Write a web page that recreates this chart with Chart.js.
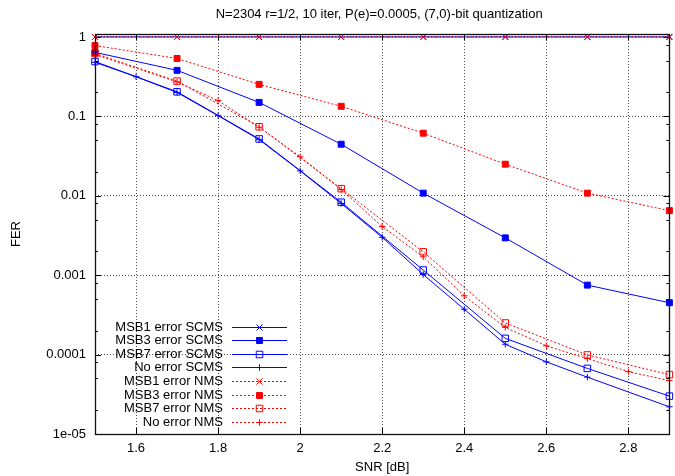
<!DOCTYPE html>
<html>
<head>
<meta charset="utf-8">
<script src="https://cdn.jsdelivr.net/npm/chart.js@4.4.0/dist/chart.umd.min.js"></script>
<style>
  html, body { margin: 0; padding: 0; background: #ffffff; }
  canvas { display: block; }
</style>
</head>
<body>
<canvas id="fer" width="675" height="476" style="width:675px;height:476px"></canvas>
<script>
// --- data ---
const TITLE = 'N=2304 r=1/2, 10 iter, P(e)=0.0005, (7,0)-bit quantization';
const X_TITLE = 'SNR [dB]';
const Y_TITLE = 'FER';

const xTickValues = [1.6, 1.8, 2.0, 2.2, 2.4, 2.6, 2.8];
const xTickLabels = ['1.6', '1.8', '2', '2.2', '2.4', '2.6', '2.8'];
const yTickValues = [1e-5, 1e-4, 1e-3, 1e-2, 1e-1, 1];
const yTickLabels = ['1e-05', '0.0001', '0.001', '0.01', '0.1', '1'];
const yMinorMultiples = [2, 5, 8];

const snrCoarse = [1.5, 1.7, 1.9, 2.1, 2.3, 2.5, 2.7, 2.9];
const snrNoErrScms = [1.5, 1.6, 1.7, 1.8, 1.9, 2.0, 2.1, 2.2, 2.3, 2.4, 2.5, 2.6, 2.7, 2.9];
const snrNoErrNms = [1.5, 1.7, 1.8, 1.9, 2.0, 2.1, 2.2, 2.3, 2.4, 2.5, 2.6, 2.7, 2.8, 2.9];

const msb1Scms = [1, 1, 1, 1, 1, 1, 1, 1];
const msb3Scms = [0.64, 0.38, 0.15, 0.0446, 0.0108, 0.00295, 0.00075, 0.00045];
const msb7Scms = [0.49, 0.204, 0.052, 0.0083, 0.00116, 0.00016, 0.000067, 0.00003];
const noErrScms = [0.48, 0.316, 0.2, 0.102, 0.051, 0.0206, 0.008, 0.003, 0.00102, 0.000372, 0.000135, 0.000081, 0.000052, 0.000022];

const msb1Nms = [1, 1, 1, 1, 1, 1, 1, 1];
const msb3Nms = [0.78, 0.536, 0.253, 0.134, 0.0614, 0.025, 0.0108, 0.0065];
const msb7Nms = [0.62, 0.278, 0.074, 0.0123, 0.00197, 0.00025, 0.000099, 0.000056];
const noErrNms = [0.6, 0.272, 0.158, 0.073, 0.031, 0.012, 0.0041, 0.0017, 0.00055, 0.00022, 0.000129, 0.000089, 0.000061, 0.000047];

// --- styles ---
const BLUE = '#0000ff';
const RED = '#ff0000';
const FONT = '"Liberation Sans", Arial, Helvetica, sans-serif';

Chart.defaults.font.family = FONT;
Chart.defaults.font.size = 13;
Chart.defaults.color = '#000';

function series(label, xs, ys, color, marker, dashed, order) {
  const filled = marker === 'filled';
  const style = marker === 'x' ? 'crossRot' : marker === '+' ? 'cross' : 'rect';
  const radius = marker === 'x' ? 4.3 : marker === '+' ? 3.2 : (filled ? 4.2 : 4.6);
  return {
    label: label,
    data: xs.map(function (x, i) { return { x: x, y: ys[i] }; }),
    borderColor: color,
    backgroundColor: color,
    borderWidth: 1,
    borderDash: dashed ? [2, 2] : [],
    pointStyle: style,
    pointRadius: radius,
    pointBorderColor: color,
    pointBackgroundColor: filled ? color : 'rgba(0,0,0,0)',
    pointBorderWidth: 1,
    tension: 0,
    fill: false,
    clip: false,
    order: order,
  };
}

const datasets = [
  series('MSB1 error SCMS', snrCoarse, msb1Scms, BLUE, 'x', false, 2),
  series('MSB3 error SCMS', snrCoarse, msb3Scms, BLUE, 'filled', false, 2),
  series('MSB7 error SCMS', snrCoarse, msb7Scms, BLUE, 'open', false, 2),
  series('No error SCMS', snrNoErrScms, noErrScms, BLUE, '+', false, 2),
  series('MSB1 error NMS', snrCoarse, msb1Nms, RED, 'x', true, 1),
  series('MSB3 error NMS', snrCoarse, msb3Nms, RED, 'filled', true, 1),
  series('MSB7 error NMS', snrCoarse, msb7Nms, RED, 'open', true, 1),
  series('No error NMS', snrNoErrNms, noErrNms, RED, '+', true, 1),
];

// --- frame, inward tics, titles and key, gnuplot style ---
function seg(ctx, x1, y1, x2, y2) {
  ctx.beginPath(); ctx.moveTo(x1, y1); ctx.lineTo(x2, y2); ctx.stroke();
}

const gnuplotDecor = {
  id: 'gnuplotDecor',
  afterDraw: function (chart) {
    const ctx = chart.ctx;
    const a = chart.chartArea;
    const xs = chart.scales.x, ys = chart.scales.y;
    ctx.save();
    ctx.strokeStyle = '#000';
    ctx.lineWidth = 1;
    ctx.setLineDash([]);

    // y major / minor tics on both sides
    yTickValues.forEach(function (v) {
      const py = Math.round(ys.getPixelForValue(v)) + 0.5;
      seg(ctx, a.left, py, a.left + 6, py);
      seg(ctx, a.right, py, a.right - 6, py);
      if (v < 1) {
        yMinorMultiples.forEach(function (m) {
          const mv = m * v;
          if (mv >= ys.min && mv <= ys.max) {
            const pm = Math.round(ys.getPixelForValue(mv)) + 0.5;
            seg(ctx, a.left, pm, a.left + 3, pm);
            seg(ctx, a.right, pm, a.right - 3, pm);
          }
        });
      }
    });
    // x tics bottom and top
    xTickValues.forEach(function (v) {
      const px = Math.round(xs.getPixelForValue(v)) + 0.5;
      seg(ctx, px, a.bottom, px, a.bottom - 6);
      seg(ctx, px, a.top, px, a.top + 6);
    });
    // frame
    ctx.lineWidth = 1.3;
    ctx.strokeStyle = '#111';
    ctx.strokeRect(Math.round(a.left) + 0.5, Math.round(a.top) + 0.5,
      Math.round(a.right - a.left), Math.round(a.bottom - a.top));

    // titles
    ctx.fillStyle = '#000';
    ctx.font = '13px ' + FONT;
    ctx.textAlign = 'center';
    ctx.textBaseline = 'middle';
    ctx.fillText(TITLE, (a.left + a.right) / 2 - 3, 14);
    ctx.fillText(X_TITLE, (a.left + a.right) / 2, 467);
    ctx.save();
    ctx.translate(16, (a.top + a.bottom) / 2);
    ctx.rotate(-Math.PI / 2);
    ctx.fillText(Y_TITLE, 0, 0);
    ctx.restore();

    // key
    const rowY0 = 326.7, rowStep = 13.57;
    const textRight = 223, lineL = 232, lineR = 287, markX = 259.5;
    chart.data.datasets.forEach(function (ds, i) {
      const yy = Math.round(rowY0 + i * rowStep) + 0.5;
      ctx.textAlign = 'right';
      ctx.fillStyle = '#000';
      ctx.fillText(ds.label, textRight, yy);
      ctx.strokeStyle = ds.borderColor;
      ctx.lineWidth = 1;
      ctx.setLineDash(ds.borderDash);
      seg(ctx, lineL, yy, lineR, yy);
      ctx.setLineDash([]);
      ctx.fillStyle = ds.pointBackgroundColor;
      ctx.strokeStyle = ds.pointBorderColor;
      Chart.helpers.drawPoint(ctx, {
        pointStyle: ds.pointStyle, radius: ds.pointRadius, rotation: 0, borderWidth: 1,
      }, markX, yy);
    });
    ctx.restore();
  },
};

new Chart(document.getElementById('fer').getContext('2d'), {
  type: 'line',
  data: { datasets: datasets },
  options: {
    responsive: false,
    animation: false,
    devicePixelRatio: 1,
    layout: { padding: { left: 0, right: 4, top: 34, bottom: 0 } },
    plugins: {
      legend: { display: false },
      title: { display: false },
      tooltip: { enabled: false },
    },
    scales: {
      x: {
        type: 'linear',
        min: 1.5,
        max: 2.9,
        afterBuildTicks: function (scale) {
          scale.ticks = xTickValues.map(function (v) { return { value: v }; });
        },
        afterFit: function (scale) { scale.height = 42; },
        ticks: {
          padding: 7,
          maxRotation: 0,
          color: '#000',
          font: { size: 13 },
          callback: function (v) { return xTickLabels[xTickValues.indexOf(v)]; },
        },
        grid: { color: 'rgba(0,0,0,0.7)', lineWidth: 1, drawTicks: false },
        border: { display: false, dash: [1, 2] },
      },
      y: {
        type: 'logarithmic',
        min: 1e-5,
        max: 1.09,
        afterBuildTicks: function (scale) {
          scale.ticks = yTickValues.map(function (v) { return { value: v }; });
        },
        afterFit: function (scale) { scale.width = 95; },
        ticks: {
          padding: 9,
          color: '#000',
          font: { size: 13 },
          callback: function (v) { return yTickLabels[yTickValues.indexOf(v)]; },
        },
        grid: { color: 'rgba(0,0,0,0.7)', lineWidth: 1, drawTicks: false },
        border: { display: false, dash: [1, 2] },
      },
    },
  },
  plugins: [gnuplotDecor],
});
</script>
</body>
</html>
